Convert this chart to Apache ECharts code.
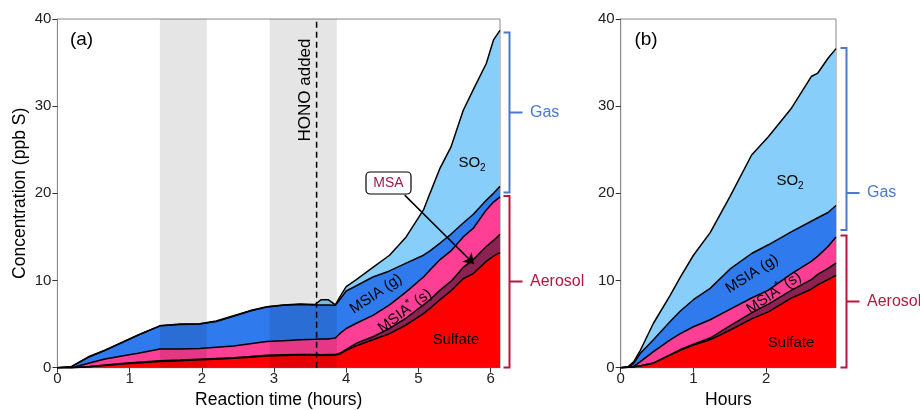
<!DOCTYPE html>
<html><head><meta charset="utf-8">
<script src="https://cdn.jsdelivr.net/npm/echarts@6/dist/echarts.min.js"></script>
<style>html,body{margin:0;padding:0;background:#fff}#c{width:920px;height:410px}</style>
</head><body><div id="c"></div>
<script>
// ---- Panel (a): reaction time (hours) ----
const timeA = [0,0.2,0.43,0.66,0.89,1.12,1.42,1.7,1.97,2.2,2.44,2.67,2.9,3.13,3.36,3.57,3.65,3.75,3.85,3.91,4.0,4.14,4.37,4.6,4.83,5.07,5.16,5.3,5.45,5.62,5.76,5.94,6.04,6.13];
const sulfateA = [0,0,0.1,0.25,0.42,0.55,0.72,0.8,0.9,0.98,1.07,1.2,1.34,1.4,1.45,1.45,1.4,1.42,1.45,1.55,2.0,2.5,3.2,3.9,4.9,6.2,6.8,7.8,8.8,10.2,10.8,12.2,12.8,13.2];
const msaA = [0,0,0.02,0.05,0.06,0.07,0.08,0.08,0.08,0.08,0.08,0.08,0.08,0.08,0.07,0.07,0.08,0.08,0.07,0.1,0.1,0.3,0.35,0.6,0.8,1.0,1.0,1.1,1.1,1.3,1.6,1.7,1.8,2.1];
const msiaSA = [0,0,0.38,0.7,0.87,1.03,1.35,1.27,1.22,1.29,1.35,1.47,1.58,1.62,1.68,1.73,1.82,1.8,1.88,2.25,2.4,2.3,2.45,2.7,3.0,3.2,3.4,3.5,3.5,3.5,3.6,4.2,4.4,4.3];
const msiaGA = [0,0.15,0.7,1.0,1.5,2.1,2.65,2.8,2.8,2.95,3.4,3.75,3.95,4.05,4.05,3.95,3.9,3.9,3.75,3.9,4.3,4.3,4.4,3.9,3.3,2.5,2.2,1.9,1.9,1.6,1.6,1.1,1.0,1.2];
const so2A = [0,0,0.05,0,0.05,0,0,0.05,0.05,0.05,0.05,0.05,0.05,0.05,0.05,0.05,0.6,0.6,0.05,0.3,0.5,0.7,1.1,1.8,3.0,5.2,6.6,8.6,10.0,12.9,14.3,15.7,17.6,17.9];
const darkBands = [[1.42,2.07],[2.94,3.87]];
const honoTime = [3.59, 3.59];
const honoConc = [0, 40];
const msaArrowTime = [4.81, 5.77];
const msaArrowConc = [19.8, 11.9];

// ---- Panel (b): hours ----
const timeB = [0,0.1,0.18,0.27,0.45,0.68,0.82,1.0,1.23,1.5,1.8,2.03,2.35,2.62,2.71,2.85,2.96];
const sulfateB = [0,0.05,0.1,0.2,0.5,1.45,2.0,2.6,3.2,4.3,5.6,6.4,8.0,9.0,9.5,10.1,10.6];
const msaB = [0,0,0,0.02,0.05,0.05,0.08,0.1,0.2,0.5,0.7,0.9,0.9,1.1,1.2,1.3,1.4];
const msiaSB = [0,0,0.05,0.48,1.3,1.7,1.82,2.0,2.1,1.9,1.7,1.6,1.9,2.1,2.1,2.5,3.0];
const msiaGB = [0,0,0.35,0.95,1.35,2.1,2.6,3.1,3.6,4.6,5.1,5.2,4.8,4.6,4.4,3.9,3.6];
const so2B = [0,0.05,0.2,0.35,1.9,3.0,3.9,5.1,6.4,8.3,11.3,12.4,14.2,16.6,16.6,17.7,18.0];

// ---- axis ticks ----
const xTicksA = [0,1,2,3,4,5,6];
const xTicksB = [0,1,2];

const FONT = '"Liberation Sans", Arial, Helvetica, sans-serif';
const colors = ['#ff0000','#8b2252','#ff3e96','#2f7bee','#87cefa'];
const names = ['Sulfate','MSA','MSIA* (s)','MSIA (g)','SO2'];

// cumulative (stacked) tops, bottom to top
function cumulative(vals) {
  const out = []; let run = vals[0].map(() => 0);
  vals.forEach(v => { run = run.map((r, i) => +(r + v[i]).toFixed(4)); out.push(run.slice()); });
  return out;
}
function panelSeries(gi, t, vals) {
  const cum = cumulative(vals);
  const s = [];
  // areas drawn top-first, each filled down to zero; lower layers painted over
  for (let k = cum.length - 1; k >= 0; k--) {
    s.push({
      type:'line', name:names[k], xAxisIndex:gi, yAxisIndex:gi,
      data:t.map((x, i) => [x, cum[k][i]]), symbol:'none', showSymbol:false,
      lineStyle:{width:0, opacity:0}, areaStyle:{color:colors[k], opacity:1, origin:'start'},
      z:2, silent:true, animation:false
    });
  }
  cum.forEach(c => s.push({
    type:'line', xAxisIndex:gi, yAxisIndex:gi,
    data:t.map((x, i) => [x, c[i]]), symbol:'none', showSymbol:false,
    lineStyle:{color:'#000', width:1.5}, z:4, silent:true, animation:false
  }));
  return s;
}

const series = [].concat(
  panelSeries(0, timeA, [sulfateA, msaA, msiaSA, msiaGA, so2A]),
  panelSeries(1, timeB, [sulfateB, msaB, msiaSB, msiaGB, so2B]),
  [{
    type:'custom', xAxisIndex:0, yAxisIndex:0, data:darkBands, encode:{x:[0,1]}, z:3, silent:true, animation:false,
    renderItem:(params, api) => {
      const cs = params.coordSys;
      const a = api.coord([api.value(0), 0])[0], b = api.coord([api.value(1), 0])[0];
      return {type:'rect', shape:{x:a, y:cs.y, width:b-a, height:cs.height}, style:{fill:'rgba(0,0,0,0.1)'}};
    }
  },
  {
    type:'line', xAxisIndex:0, yAxisIndex:0, data:honoTime.map((x, i) => [x, honoConc[i]]), symbol:'none',
    lineStyle:{color:'#000', width:1.5, type:[6,4]}, z:5, silent:true, animation:false,
    markLine:{
      silent:true, animation:false, symbol:['none','none'], label:{show:false},
      lineStyle:{color:'#000', width:1.5, type:'solid'},
      data:[[{coord:[msaArrowTime[0], msaArrowConc[0]], symbol:'none'},
             {coord:[msaArrowTime[1], msaArrowConc[1]], symbol:'arrow', symbolSize:10}]]
    }
  }]
);

function xAxis(gi, max, ticks, name) {
  return {
    gridIndex:gi, type:'value', min:0, max:max,
    axisLine:{show:true, onZero:false, lineStyle:{color:'#888', width:1}},
    axisTick:{show:true, length:5, customValues:ticks, lineStyle:{color:'#333', width:1}},
    axisLabel:{customValues:ticks, fontSize:15, color:'#222', margin:4, fontFamily:FONT},
    splitLine:{show:false},
    name:name, nameLocation:'middle', nameGap:20,
    nameTextStyle:{fontSize:17.5, color:'#000', fontFamily:FONT}
  };
}
function yAxis(gi, name) {
  return {
    gridIndex:gi, type:'value', min:0, max:40, interval:10,
    axisLine:{show:true, lineStyle:{color:'#888', width:1}},
    axisTick:{show:true, length:5, lineStyle:{color:'#333', width:1}},
    axisLabel:{fontSize:15, color:'#222', margin:6, fontFamily:FONT},
    splitLine:{show:false},
    name:name, nameLocation:'middle', nameGap:28,
    nameTextStyle:{fontSize:17.5, color:'#000', fontFamily:FONT}
  };
}

const GAS = '#4a78cc', AER = '#b5173f';
function bracket(x, y1, y2, ym, color) {
  return {type:'polyline', silent:true, z:10,
    shape:{points:[[x-6,y1],[x,y1],[x,ym],[x+13,ym],[x,ym],[x,y2],[x-6,y2]]},
    style:{stroke:color, lineWidth:2, fill:null}};
}
function txt(x, y, text, opts) {
  return Object.assign({type:'text', x:x, y:y, silent:true, z:10,
    style:Object.assign({text:text, font:'15px '+FONT, fill:'#000', align:'center', verticalAlign:'middle'}, opts && opts.style || {})},
    opts && opts.rotation !== undefined ? {rotation:opts.rotation} : {});
}
const deg = Math.PI/180;
const richSO2 = {n:{fontSize:15, fontFamily:FONT, lineHeight:20}, s:{fontSize:10, fontFamily:FONT, lineHeight:10, verticalAlign:'bottom'}};
const richMS = {n:{fontSize:15, fontFamily:FONT, lineHeight:20}, u:{fontSize:11, fontFamily:FONT, lineHeight:12, verticalAlign:'top'}};

const graphic = [
  txt(81.5, 40, '(a)', {style:{font:'19px '+FONT}}),
  txt(646, 40, '(b)', {style:{font:'19px '+FONT}}),
  txt(305, 90, 'HONO added', {rotation:90*deg, style:{font:'17px '+FONT}}),
  txt(472, 163, '{n|SO}{s|2}', {style:{rich:richSO2}}),
  txt(376, 294, 'MSIA (g)', {rotation:34*deg}),
  txt(405, 311, '{n|MSIA}{u|*}{n| (s)}', {rotation:37*deg, style:{rich:richMS}}),
  txt(456, 340, 'Sulfate'),
  txt(790, 181, '{n|SO}{s|2}', {style:{rich:richSO2}}),
  txt(752, 274, 'MSIA (g)', {rotation:32.5*deg}),
  txt(774, 293, '{n|MSIA}{u|*}{n| (s)}', {rotation:34.5*deg, style:{rich:richMS}}),
  txt(791, 343, 'Sulfate'),
  {type:'rect', z:10, silent:true, shape:{x:366, y:172, width:45, height:22, r:4},
    style:{fill:'#fff', stroke:'#000', lineWidth:1.2}},
  txt(388.5, 183, 'MSA', {style:{fill:'#a0194f', font:'14px '+FONT}}),
  bracket(509.5, 32.5, 192.5, 112.5, GAS),
  bracket(509.5, 196, 367.5, 281.5, AER),
  txt(530, 112.5, 'Gas', {style:{fill:GAS, align:'left', font:'16px '+FONT}}),
  txt(530, 281.5, 'Aerosol', {style:{fill:AER, align:'left', font:'16px '+FONT}}),
  bracket(846.5, 48, 230, 193, GAS),
  bracket(846.5, 235.5, 367.5, 301.5, AER),
  txt(867, 193, 'Gas', {style:{fill:GAS, align:'left', font:'16px '+FONT}}),
  txt(867, 301.5, 'Aerosol', {style:{fill:AER, align:'left', font:'16px '+FONT}})
];

const chart = echarts.init(document.getElementById('c'), null, {renderer:'canvas'});
chart.setOption({
  animation:false,
  backgroundColor:'#fff',
  textStyle:{fontFamily:FONT},
  grid:[
    {left:57.4, top:19, width:442.6, height:348.7, show:true, borderColor:'#888', borderWidth:1, backgroundColor:'transparent', outerBoundsMode:'none', containLabel:false},
    {left:620.7, top:19, width:215.3, height:348.7, show:true, borderColor:'#888', borderWidth:1, backgroundColor:'transparent', outerBoundsMode:'none', containLabel:false}
  ],
  xAxis:[xAxis(0, 6.13, xTicksA, 'Reaction time (hours)'), xAxis(1, 2.96, xTicksB, 'Hours')],
  yAxis:[yAxis(0, 'Concentration (ppb S)'), yAxis(1, '')],
  series:series,
  graphic:graphic
});
</script>
</body></html>
